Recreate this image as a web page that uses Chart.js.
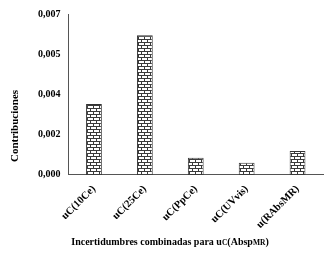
<!DOCTYPE html>
<html>
<head>
<meta charset="utf-8">
<script src="https://cdn.jsdelivr.net/npm/chart.js@4"></script>
<style>
  html, body { margin: 0; padding: 0; background: #fff; }
  #wrap { width: 334px; height: 254px; }
</style>
</head>
<body>
<div id="wrap"><canvas id="myChart" width="334" height="254"></canvas></div>
<script>
// data
var categorias = ['uC(10Ce)', 'uC(25Ce)', 'uC(PpCe)', 'uC(UVvis)', 'u(RAbsMR)'];
var contribuciones = [0.00308, 0.00608, 0.00075, 0.00053, 0.00104];
var yTicks = [0, 0.00175, 0.0035, 0.00525, 0.007];

var fuente = "'Liberation Serif', 'Times New Roman', serif";

// brick pattern for the bars
function ladrillo() {
    var c = document.createElement('canvas');
    c.width = 6; c.height = 6;
    var g = c.getContext('2d');
    g.fillStyle = '#ffffff';
    g.fillRect(0, 0, 6, 6);
    g.fillStyle = '#3a3a3a';
    g.fillRect(0, 0, 6, 1);
    g.fillRect(0, 3, 6, 1);
    g.fillRect(0, 0, 1, 3);
    g.fillRect(3, 3, 1, 3);
    return g.createPattern(c, 'repeat');
}

// axis titles, drawn by hand (small "C" and "MR", off-centre y title)
var titulos = {
    id: 'titulos',
    afterDraw: function (chart) {
        var ctx = chart.ctx;
        ctx.save();
        ctx.fillStyle = '#000';

        // y title
        ctx.font = 'bold 11px ' + fuente;
        ctx.textAlign = 'center';
        ctx.textBaseline = 'middle';
        ctx.translate(15, 126);
        ctx.rotate(-Math.PI / 2);
        ctx.fillText('Contribuciones', 0, 0);
        ctx.setTransform(1, 0, 0, 1, 0, 0);

        // x title
        var partes = [
            ['Incertidumbres combinadas para u', 10],
            ['C', 7.5],
            ['(Absp', 10],
            ['MR', 7.5],
            [')', 10]
        ];
        ctx.textAlign = 'left';
        ctx.textBaseline = 'alphabetic';
        var total = 0;
        partes.forEach(function (p) {
            ctx.font = 'bold ' + p[1] + 'px ' + fuente;
            total += ctx.measureText(p[0]).width;
        });
        var x = 170 - total / 2;
        var y = 245;
        partes.forEach(function (p) {
            ctx.font = 'bold ' + p[1] + 'px ' + fuente;
            ctx.fillText(p[0], x, y);
            x += ctx.measureText(p[0]).width;
        });
        ctx.restore();
    }
};

var ctx = document.getElementById('myChart');
new Chart(ctx, {
    type: 'bar',
    data: {
        labels: categorias,
        datasets: [{
            data: contribuciones,
            backgroundColor: ladrillo(),
            borderColor: '#333333',
            borderWidth: 1,
            barPercentage: 0.62,
            categoryPercentage: 0.5
        }]
    },
    options: {
        responsive: false,
        animation: false,
        layout: { padding: { left: 30, right: 11, top: 12, bottom: 15 } },
        plugins: {
            legend: { display: false },
            tooltip: { enabled: false }
        },
        scales: {
            x: {
                grid: { display: false, drawTicks: false },
                border: { color: '#555', width: 1 },
                ticks: {
                    color: '#000',
                    font: { family: fuente, size: 10.5, weight: 'bold' },
                    maxRotation: 45,
                    minRotation: 45,
                    padding: 8
                }
            },
            y: {
                min: 0,
                max: 0.007,
                afterBuildTicks: function (axis) {
                    axis.ticks = yTicks.map(function (v) { return { value: v }; });
                },
                grid: { display: false, drawTicks: false },
                border: { color: '#555', width: 1 },
                ticks: {
                    color: '#000',
                    padding: 8,
                    font: { family: fuente, size: 10, weight: 'bold' },
                    callback: function (v) {
                        return (Math.round(v * 1000) / 1000).toFixed(3).replace('.', ',');
                    }
                }
            }
        }
    },
    plugins: [titulos]
});
</script>
</body>
</html>
